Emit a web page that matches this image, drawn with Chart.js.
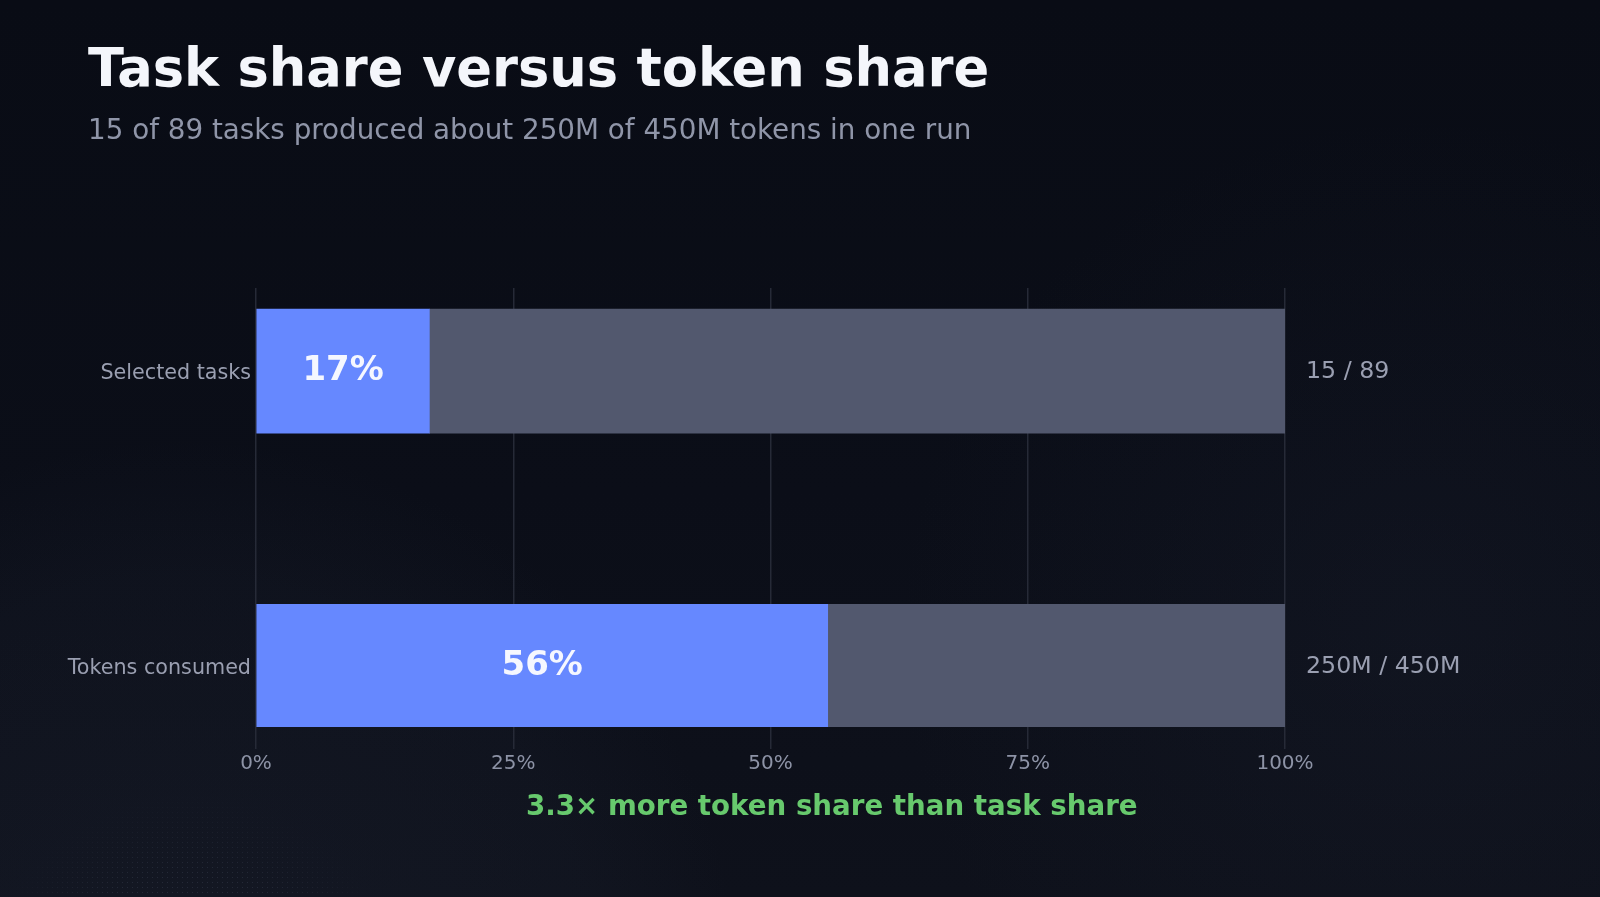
<!DOCTYPE html>
<html>
<head>
<meta charset="utf-8">
<script src="https://cdn.jsdelivr.net/npm/chart.js@4.4.1/dist/chart.umd.min.js"></script>
<style>
  html, body { margin: 0; padding: 0; }
  body {
    width: 1600px; height: 897px; overflow: hidden; position: relative;
    font-family: "DejaVu Sans", sans-serif;
    background:
      radial-gradient(circle at 180px 1000px, rgba(40, 48, 66, 0.22) 0, rgba(40, 48, 66, 0.12) 420px, rgba(0,0,0,0) 560px),
      radial-gradient(circle at 1420px 640px, rgba(30, 36, 52, 0.25) 0, rgba(0,0,0,0) 520px),
      linear-gradient(180deg, #090c15 0%, #0b0e18 55%, #0e111b 100%);
  }
  .dots {
    position: absolute; left: 0; top: 790px; width: 420px; height: 107px;
    background-image: radial-gradient(rgba(120, 130, 160, 0.18) 0.7px, transparent 0.9px);
    background-size: 5px 5px;
    -webkit-mask-image: radial-gradient(ellipse 210px 200px at 190px 200px, #000 60%, transparent 100%);
    mask-image: radial-gradient(ellipse 210px 200px at 190px 200px, #000 60%, transparent 100%);
  }
  #wrap { position: absolute; left: 0; top: 0; width: 1600px; height: 897px; }
  .title {
    position: absolute; left: 88px; top: 42px; margin: 0;
    font-size: 52.7px; line-height: 1; font-weight: bold; color: #f4f6fb;
  }
  .subtitle {
    position: absolute; left: 88px; top: 116px; margin: 0;
    font-size: 27.77px; line-height: 1; color: #8f95a8;
  }
  .caption {
    position: absolute; left: 526px; top: 792px; margin: 0;
    font-size: 27.7px; line-height: 1; font-weight: bold; color: #67c96d;
  }
</style>
</head>
<body>
<div class="dots"></div>
<div id="wrap"><canvas id="chart"></canvas></div>
<h1 class="title">Task share versus token share</h1>
<p class="subtitle">15 of 89 tasks produced about 250M of 450M tokens in one run</p>
<p class="caption">3.3× more token share than task share</p>
<script>
const categories = ["Selected tasks", "Tokens consumed"];
const sharePct = [16.85, 55.56];
const restPct = [83.15, 44.44];
const shareLabels = ["17%", "56%"];
const countLabels = ["15 / 89", "250M / 450M"];
const xTicks = [0, 25, 50, 75, 100];

const BLUE = "#6688ff";
const REST = "#52586e";
const GRID = "#262a37";
const TICK = "#8d93a6";

// y is a linear index axis so the bars sit where the original put them
const Y_MIN = -0.282;
const Y_MAX = 1.206;

const pts = (vals) => vals.map((v, i) => ({ x: v, y: i }));

const shareText = {
  id: "shareText",
  afterDatasetsDraw(chart) {
    const { ctx } = chart;
    const meta = chart.getDatasetMeta(0);
    ctx.save();
    ctx.font = "bold 34px 'DejaVu Sans'";
    ctx.fillStyle = "#f5f7ff";
    ctx.textAlign = "center";
    ctx.textBaseline = "middle";
    meta.data.forEach((bar, i) => {
      ctx.fillText(shareLabels[i], (bar.x + bar.base) / 2, bar.y);
    });
    ctx.restore();
  },
};

Chart.defaults.font.family = "'DejaVu Sans', sans-serif";

new Chart(document.getElementById("chart"), {
  type: "bar",
  data: {
    datasets: [
      {
        label: "Share",
        data: pts(sharePct),
        backgroundColor: BLUE,
        barThickness: 124,
        borderWidth: 0,
      },
      {
        label: "Rest",
        data: pts(restPct),
        backgroundColor: REST,
        barThickness: 124,
        borderWidth: 0,
      },
    ],
  },
  options: {
    indexAxis: "y",
    responsive: true,
    maintainAspectRatio: false,
    animation: false,
    devicePixelRatio: 1,
    layout: { padding: { top: 288, bottom: 110, left: 0, right: 0 } },
    plugins: {
      legend: { display: false },
      tooltip: { enabled: false },
    },
    scales: {
      x: {
        type: "linear",
        stacked: true,
        min: 0,
        max: 100,
        afterBuildTicks: (s) => { s.ticks = xTicks.map((v) => ({ value: v })); },
        afterFit: (s) => { s.height = 60; },
        grid: { color: GRID, lineWidth: 1.5, tickLength: 22, drawTicks: true },
        border: { display: false },
        ticks: {
          padding: 3,
          color: TICK,
          font: { size: 20 },
          callback: (v) => v + "%",
        },
      },
      y: {
        type: "linear",
        position: "left",
        stacked: true,
        reverse: true,
        offset: false,
        bounds: "data",
        min: Y_MIN,
        max: Y_MAX,
        afterBuildTicks: (s) => { s.ticks = categories.map((c, i) => ({ value: i })); },
        afterFit: (s) => { s.width = 256; },
        grid: { display: false, drawTicks: false, offset: false },
        border: { display: false },
        ticks: {
          padding: 5,
          labelOffset: 2,
          color: "#9a9fb1",
          font: { size: 20.7 },
          callback: (v) => categories[v],
        },
      },
      yRight: {
        type: "linear",
        position: "right",
        reverse: true,
        offset: false,
        bounds: "data",
        min: Y_MIN,
        max: Y_MAX,
        afterBuildTicks: (s) => { s.ticks = countLabels.map((c, i) => ({ value: i })); },
        afterFit: (s) => { s.width = 315; },
        grid: { display: false, drawTicks: false },
        border: { display: false },
        ticks: {
          padding: 21,
          labelOffset: 1,
          color: "#9a9fb1",
          font: { size: 23.7 },
          callback: (v) => countLabels[v],
        },
      },
    },
  },
  plugins: [shareText],
});
</script>
</body>
</html>
